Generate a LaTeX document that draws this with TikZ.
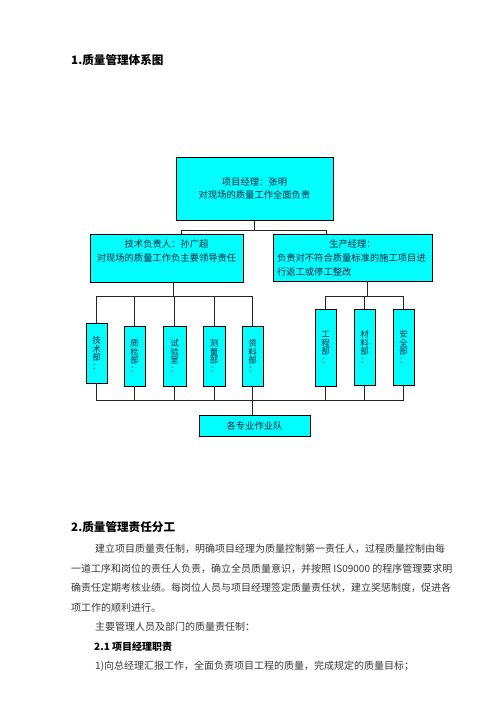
\documentclass[tikz,border=0pt]{standalone}
\usepackage{fontspec}
\setmainfont{Noto Sans CJK SC}
\definecolor{boxcyan}{RGB}{0,255,255}
\definecolor{boxtext}{RGB}{30,35,60}
\begin{document}
\begin{tikzpicture}[x=1pt,y=-1pt]
\tikzset{
  box/.style={draw=black, line width=0.9pt, fill=boxcyan, inner sep=0pt, align=center,
    text=boxtext, font=\fontsize{9.3}{14}\selectfont},
  vbox/.style={box, minimum width=21pt, font=\fontsize{8.5}{8.6}\selectfont},
  conn/.style={draw=black!85, line width=0.8pt},
  body/.style={anchor=west, inner sep=0pt, text=black!78, font=\fontsize{10}{12}\selectfont},
  head/.style={anchor=west, inner sep=0pt, text=black, font=\fontsize{11.6}{14}\selectfont\bfseries},
  subhead/.style={anchor=west, inner sep=0pt, text=black, font=\fontsize{10}{12}\selectfont\bfseries}
}
\useasboundingbox[fill=white] (0,0) rectangle (496,702);

% heading
\node[head] (h1) at (71,60) {1.质量管理体系图};

% boxes
\node[box, minimum width=157pt, minimum height=63pt, font=\fontsize{9.3}{13}\selectfont]
  (pm) at (254.5,188.5) {项目经理：张明\\对现场的质量工作全面负责};
\node[box, minimum width=153pt, minimum height=48pt]
  (tech) at (166.5,258) {技术负责人：孙广超\\对现场的质量工作负主要领导责任\\\mbox{}};
\node[box, minimum width=159pt, minimum height=47pt, align=left, text width=151pt]
  (prod) at (352.5,257.5) {\makebox[151pt][c]{生产经理：}\\负责对不符合质量标准的施工项目进\\行返工或停工整改};

\node[vbox, minimum height=60pt] (js) at (96.5,353) {技\\术\\部\\：};
\node[vbox, minimum height=60pt] (zj) at (134.5,356) {质\\检\\部\\：};
\node[vbox, minimum width=23pt, minimum height=60pt] (sy) at (174.5,356) {试\\验\\室\\：};
\node[vbox, minimum width=22pt, minimum height=60pt] (cl) at (214,356) {测\\量\\部\\：};
\node[vbox, minimum height=60pt] (zl) at (252.5,356) {资\\料\\部\\：};
\node[vbox, minimum height=77pt] (gc) at (325.5,347.5) {工\\程\\部\\：};
\node[vbox, minimum height=76pt] (cll) at (364.5,347) {材\\料\\部\\：};
\node[vbox, minimum height=76pt] (aq) at (403.5,347) {安\\全\\部\\：};

\node[box, minimum width=111pt, minimum height=21pt] (team) at (254.5,425.5) {各专业作业队};

% connectors: top level
\coordinate (b1) at (181,230);
\coordinate (b2) at (326,230);
\draw[conn] (pm.south) -- (pm.south|-b1);
\draw[conn] (b1) -- (b2);
\draw[conn] (b1) -- (b1|-tech.north);
\draw[conn] (b2) -- (b2|-prod.north);

% left group
\coordinate (lb) at (173,296);
\draw[conn] (lb|-tech.south) -- (lb);
\draw[conn] (js.north) -- (js.north|-lb) -- (zl.north|-lb) -- (zl.north);
\draw[conn] (zj.north) -- (zj.north|-lb);
\draw[conn] (sy.north) -- (sy.north|-lb);
\draw[conn] (cl.north) -- (cl.north|-lb);

% right group
\coordinate (rb) at (367,296);
\draw[conn] (rb|-prod.south) -- (rb);
\draw[conn] (gc.north) -- (gc.north|-rb) -- (aq.north|-rb) -- (aq.north);
\draw[conn] (cll.north) -- (cll.north|-rb);

% bottom bus
\coordinate (bb) at (0,400);
\draw[conn] (js.south) -- (js.south|-bb) -- (aq.south|-bb) -- (aq.south);
\draw[conn] (zj.south) -- (zj.south|-bb);
\draw[conn] (sy.south) -- (sy.south|-bb);
\draw[conn] (cl.south) -- (cl.south|-bb);
\draw[conn] (gc.south) -- (gc.south|-bb);
\draw[conn] (cll.south) -- (cll.south|-bb);
\draw[conn] (zl.south) -- (zl.south|-team.north);

% section 2
\node[head] (h2) at (71,527) {2.质量管理责任分工};
\node[body] (p1) at (95,549) {建立项目质量责任制，明确项目经理为质量控制第一责任人，过程质量控制由每};
\node[body] (p2) at (71,569) {一道工序和岗位的责任人负责，确立全员质量意识，并按照 IS09000 的程序管理要求明};
\node[body] (p3) at (71,588) {确责任定期考核业绩。每岗位人员与项目经理签定质量责任状，建立奖惩制度，促进各};
\node[body] (p4) at (71,608) {项工作的顺利进行。};
\node[body] (p5) at (95,627) {主要管理人员及部门的质量责任制：};
\node[subhead] (h21) at (94,647) {2.1 项目经理职责};
\node[body] (p6) at (95,666) {1)向总经理汇报工作，全面负责项目工程的质量，完成规定的质量目标；};
\end{tikzpicture}
\end{document}
